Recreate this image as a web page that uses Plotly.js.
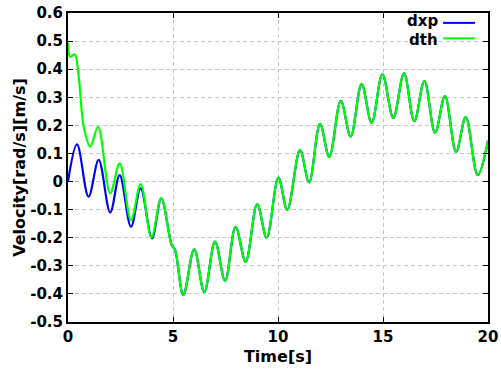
<!DOCTYPE html>
<html><head><meta charset="utf-8">
<script src="https://cdn.plot.ly/plotly-3.0.1.min.js"></script>
<style>html,body{margin:0;padding:0;background:#fff}#plot{width:501px;height:374px}</style>
</head><body><div id="plot"></div>
<script>
var tDth = [0, 0.11, 0.32, 0.51, 0.75, 1.06, 1.43, 2.01, 2.46, 3.0, 3.46, 3.97, 4.44, 4.94, 5.1, 5.49, 6.01, 6.49, 7.0, 7.48, 7.98, 8.46, 9.01, 9.46, 10.02, 10.44, 11.05, 11.48, 12.0, 12.44, 12.99, 13.46, 13.98, 14.46, 14.97, 15.49, 16.0, 16.49, 16.97, 17.48, 17.95, 18.48, 18.94, 19.51, 20.0];
var vDth = [0.493, 0.444, 0.453, 0.373, 0.195, 0.124, 0.195, -0.042, 0.065, -0.137, -0.009, -0.199, -0.06, -0.226, -0.244, -0.404, -0.241, -0.394, -0.214, -0.353, -0.161, -0.285, -0.08, -0.2, 0.014, -0.101, 0.112, -0.003, 0.205, 0.088, 0.287, 0.16, 0.347, 0.209, 0.382, 0.227, 0.385, 0.215, 0.358, 0.174, 0.304, 0.106, 0.229, 0.023, 0.145];
var tDxp = [0, 0.43, 0.98, 1.46, 2.01, 2.46, 3.0, 3.46, 4.0, 4.44, 4.94, 5.1, 5.49, 6.01, 6.49, 7.0, 7.48, 7.98, 8.46, 9.01, 9.46, 10.02, 10.44, 11.05, 11.48, 12.0, 12.44, 12.99, 13.46, 13.98, 14.46, 14.97, 15.49, 16.0, 16.49, 16.97, 17.48, 17.95, 18.48, 18.94, 19.51, 20.0];
var vDxp = [0, 0.132, -0.054, 0.077, -0.11, 0.023, -0.161, -0.024, -0.202, -0.06, -0.226, -0.244, -0.404, -0.241, -0.394, -0.214, -0.353, -0.161, -0.285, -0.08, -0.2, 0.014, -0.101, 0.112, -0.003, 0.205, 0.088, 0.287, 0.16, 0.347, 0.209, 0.382, 0.227, 0.385, 0.215, 0.358, 0.174, 0.304, 0.106, 0.229, 0.023, 0.145];
var seriesNames = ['dxp', 'dth'];
var xTickVals = [0, 5, 10, 15, 20];
var xTickText = ['0', '5', '10', '15', '20'];
var yTickVals = [-0.5, -0.4, -0.3, -0.2, -0.1, 0, 0.1, 0.2, 0.3, 0.4, 0.5, 0.6];
var yTickText = ['-0.5', '-0.4', '-0.3', '-0.2', '-0.1', '0', '0.1', '0.2', '0.3', '0.4', '0.5', '0.6'];
var xTitle = 'Time[s]';
var yTitle = 'Velocity[rad/s][m/s]';

function b(s) { return '<b>' + s + '</b>'; }
var colors = ['#0000ff', '#00ff00'];
var F = '"DejaVu Sans", Verdana, sans-serif';
var traces = [
  {x: tDxp, y: vDxp, name: seriesNames[0], mode: 'lines', line: {color: colors[0], width: 2.2, shape: 'spline', smoothing: 1}},
  {x: tDth, y: vDth, name: seriesNames[1], mode: 'lines', line: {color: colors[1], width: 2.2, shape: 'spline', smoothing: 1}}
];
var axisCommon = {
  showline: true, linecolor: '#000', linewidth: 2, mirror: 'ticks',
  ticks: 'inside', ticklen: 5, tickwidth: 1, tickcolor: '#000',
  showgrid: true, gridcolor: '#c8c8c8', gridwidth: 1, griddash: '4px,3px',
  zeroline: false,
  tickfont: {family: F, size: 15, color: '#000'}
};
var layout = {
  width: 501, height: 374,
  margin: {l: 68, r: 13, t: 13, b: 52},
  paper_bgcolor: '#fff', plot_bgcolor: '#fff',
  showlegend: false,
  xaxis: Object.assign({}, axisCommon, {range: [0, 20], tickvals: xTickVals, ticktext: xTickText.map(b),
    title: {text: b(xTitle), font: {family: F, size: 16, color: '#000'}, standoff: 6}}),
  yaxis: Object.assign({}, axisCommon, {range: [-0.5, 0.6], tickvals: yTickVals, ticktext: yTickText.map(b),
    title: {text: b(yTitle), font: {family: F, size: 16, color: '#000'}, standoff: 1}}),
  annotations: [
    {xref: 'paper', yref: 'paper', x: 0.879, y: 0.974, xanchor: 'right', yanchor: 'middle', xshift: 2, borderpad: 0, text: b(seriesNames[0]), showarrow: false, font: {family: F, size: 15, color: '#000'}},
    {xref: 'paper', yref: 'paper', x: 0.879, y: 0.912, xanchor: 'right', yanchor: 'middle', xshift: 2, borderpad: 0, text: b(seriesNames[1]), showarrow: false, font: {family: F, size: 15, color: '#000'}}
  ],
  shapes: [
    {type: 'line', xref: 'paper', yref: 'paper', x0: 0.893, x1: 0.969, y0: 0.968, y1: 0.968, line: {color: colors[0], width: 2}},
    {type: 'line', xref: 'paper', yref: 'paper', x0: 0.893, x1: 0.969, y0: 0.918, y1: 0.918, line: {color: colors[1], width: 2}}
  ]
};
Plotly.newPlot('plot', traces, layout, {staticPlot: true, displayModeBar: false});
</script></body></html>
